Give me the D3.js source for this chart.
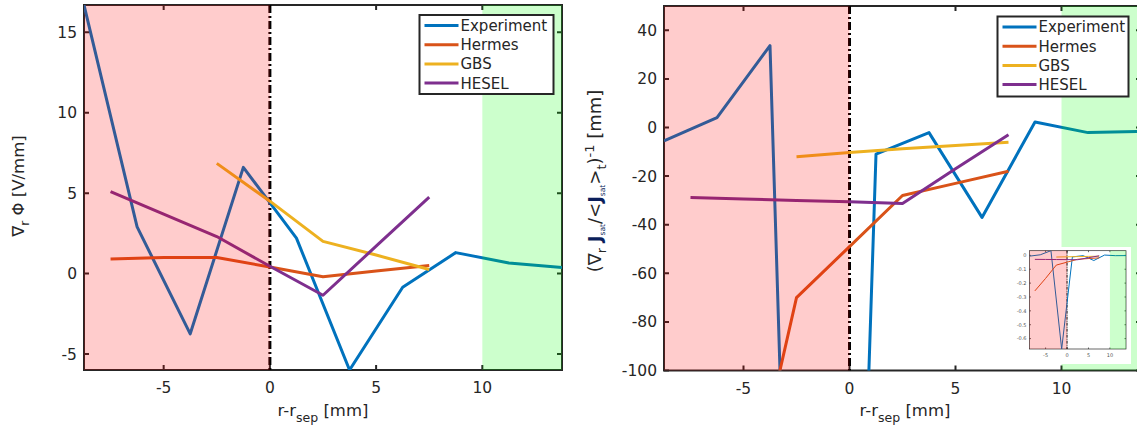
<!DOCTYPE html>
<html>
<head>
<meta charset="utf-8">
<script src="https://cdn.jsdelivr.net/npm/d3@7"></script>
<style>
  body { margin: 0; background: #fff; }
  text { font-family: "DejaVu Sans", sans-serif; fill: #262626; }
</style>
</head>
<body>
<script>
var width = 1137;
var height = 431;

// radial positions [mm]
var expX = [-8.75, -6.25, -3.75, -1.25, 1.25, 3.75, 6.25, 8.75, 11.25, 13.75];
var simX = [-7.5, -5, -2.5, 0, 2.5, 5, 7.5];
var gbsX = [-2.5, 0, 2.5, 5, 7.5];

// left panel: grad_r Phi [V/mm]
var expPhi = [16.7, 2.9, -3.75, 6.6, 2.2, -6.0, -0.85, 1.3, 0.65, 0.37];
var hermesPhi = [0.9, 1.0, 1.0, 0.4, -0.2, 0.15, 0.5];
var gbsPhi = [6.85, 4.5, 2.0, 1.15, 0.25];
var heselPhi = [5.1, 3.7, 2.3, 0.45, -1.35, 1.7, 4.75];

// right panel: (grad_r Jsat/<Jsat>)^-1 [mm]
var expL = [-5.5, 4.1, 33.7, -675, -11, -2.1, -37, 2.3, -2.1, -1.6];
var hermesL = [-256, -166, -70, -49, -28, -23, -18];
var gbsL = [-12, -10.3, -8.7, -7.4, -6.1];
var heselL = [-28.8, -29.4, -30, -30.6, -31.3, -17, -3];

var seriesNames = ['Experiment', 'Hermes', 'GBS', 'HESEL'];
var colors = ['#0072BD', '#D95319', '#EDB120', '#7E2F8E'];

var xTicks = [-5, 0, 5, 10];
var phiTicks = [-5, 0, 5, 10, 15];
var lTicks = [-100, -80, -60, -40, -20, 0, 20, 40];
var insetYTicks = [0, -0.1, -0.2, -0.3, -0.4, -0.5, -0.6];

var svg = d3.select('body').append('svg')
    .attr('width', width)
    .attr('height', height);

var clipId = 0;

function drawPanel(cfg) {
    var x = d3.scaleLinear().domain(cfg.xDomain).range(cfg.xRange);
    var y = d3.scaleLinear().domain(cfg.yDomain).range(cfg.yRange);
    var g = svg.append('g');
    var x0 = cfg.xRange[0], x1 = cfg.xRange[1], y0 = cfg.yRange[1], y1 = cfg.yRange[0];

    var id = 'clip' + (clipId++);
    g.append('clipPath').attr('id', id)
        .append('rect')
        .attr('x', x0).attr('y', y0)
        .attr('width', x1 - x0).attr('height', y1 - y0);

    if (cfg.background) {
        g.append('rect')
            .attr('x', cfg.background[0]).attr('y', cfg.background[1])
            .attr('width', cfg.background[2]).attr('height', cfg.background[3])
            .attr('fill', '#fff');
    }

    // ticks (inward, on all four sides) and box
    var tl = cfg.tickLen;
    g.selectAll('.xt').data(cfg.xTicks).enter().append('path')
        .attr('d', function (d) {
            return 'M' + x(d) + ',' + y1 + 'v' + (-tl) + 'M' + x(d) + ',' + y0 + 'v' + tl;
        })
        .attr('stroke', '#262626').attr('stroke-width', cfg.axisWidth);
    g.selectAll('.yt').data(cfg.yTicks).enter().append('path')
        .attr('d', function (d) {
            return 'M' + x0 + ',' + y(d) + 'h' + tl + 'M' + x1 + ',' + y(d) + 'h' + (-tl);
        })
        .attr('stroke', '#262626').attr('stroke-width', cfg.axisWidth);

    g.append('rect')
        .attr('x', x0).attr('y', y0)
        .attr('width', x1 - x0).attr('height', y1 - y0)
        .attr('fill', 'none')
        .attr('stroke', '#262626')
        .attr('stroke-width', cfg.axisWidth);

    g.selectAll('.xl').data(cfg.xTicks).enter().append('text')
        .attr('x', function (d) { return x(d); })
        .attr('y', y1 + cfg.xLabelOffset)
        .attr('text-anchor', 'middle')
        .style('font-size', cfg.fontSize + 'px')
        .style('fill', cfg.tickColor || '#262626')
        .text(function (d) { return d; });
    g.selectAll('.yl').data(cfg.yTicks).enter().append('text')
        .attr('x', x0 - cfg.yLabelOffset)
        .attr('y', function (d) { return y(d); })
        .attr('dy', '0.36em')
        .attr('text-anchor', 'end')
        .style('font-size', cfg.fontSize + 'px')
        .style('fill', cfg.tickColor || '#262626')
        .text(function (d) { return d; });

    // separatrix
    g.append('line')
        .attr('x1', x(0)).attr('x2', x(0))
        .attr('y1', y0).attr('y2', y1)
        .attr('stroke', '#000')
        .attr('stroke-width', cfg.sepWidth)
        .attr('stroke-dasharray', cfg.sepDash);

    var line = d3.line()
        .x(function (d) { return x(d[0]); })
        .y(function (d) { return y(d[1]); });

    var lines = g.append('g').attr('clip-path', 'url(#' + id + ')');
    cfg.series.forEach(function (s, i) {
        lines.append('path')
            .datum(d3.zip(s.x, s.y))
            .attr('d', line)
            .attr('fill', 'none')
            .attr('stroke', colors[i])
            .attr('stroke-width', cfg.lineWidth)
            .attr('stroke-linejoin', 'round');
    });

    // confined region / wall shadow region
    g.append('rect')
        .attr('x', x0).attr('y', y0)
        .attr('width', x(0) - x0).attr('height', y1 - y0)
        .attr('fill', '#ff0000').attr('fill-opacity', 0.2);
    g.append('rect')
        .attr('x', x(10)).attr('y', y0)
        .attr('width', x1 - x(10)).attr('height', y1 - y0)
        .attr('fill', '#00ff00').attr('fill-opacity', 0.2);

    return { x: x, y: y, g: g };
}

function drawLegend(lx, ly, w, h) {
    var lg = svg.append('g').attr('transform', 'translate(' + lx + ',' + ly + ')');
    lg.append('rect')
        .attr('width', w).attr('height', h)
        .attr('fill', '#fff')
        .attr('stroke', '#262626')
        .attr('stroke-width', 2);
    seriesNames.forEach(function (name, i) {
        var yy = 10.5 + i * 19.2;
        lg.append('line')
            .attr('x1', 5).attr('x2', 39)
            .attr('y1', yy).attr('y2', yy)
            .attr('stroke', colors[i]).attr('stroke-width', 3);
        lg.append('text')
            .attr('x', 41).attr('y', yy)
            .attr('dy', '0.36em')
            .style('font-size', '15px')
            .text(name);
    });
}

function xLabel(cx) {
    var t = svg.append('text')
        .attr('x', cx).attr('y', 416)
        .attr('text-anchor', 'middle')
        .style('font-size', '16.5px');
    t.append('tspan').text('r-r');
    t.append('tspan').attr('dy', 6).style('font-size', '12.5px').text('sep');
    t.append('tspan').attr('dy', -6).text(' [mm]');
}

var common = {
    xDomain: [-8.75, 13.75],
    xTicks: xTicks,
    tickLen: 5,
    axisWidth: 2,
    fontSize: 15.5,
    xLabelOffset: 23,
    yLabelOffset: 7,
    lineWidth: 3,
    sepWidth: 3,
    sepDash: '8,3,2,3'
};

// left panel
drawPanel(Object.assign({}, common, {
    xRange: [84, 562],
    yDomain: [-6.0, 16.7],
    yRange: [370, 5],
    yTicks: phiTicks,
    series: [
        { x: expX, y: expPhi },
        { x: simX, y: hermesPhi },
        { x: gbsX, y: gbsPhi },
        { x: simX, y: heselPhi }
    ]
}));

// right panel
drawPanel(Object.assign({}, common, {
    xRange: [664, 1141],
    yDomain: [-100, 50],
    yRange: [370.5, 6],
    yTicks: lTicks,
    series: [
        { x: expX, y: expL },
        { x: simX, y: hermesL },
        { x: gbsX, y: gbsL },
        { x: simX, y: heselL }
    ]
}));

// inset with the full range of the right panel [m]
var toM = function (a) { return a.map(function (v) { return v / 1000; }); };
var insetAll = expL.concat(hermesL, gbsL, heselL);
drawPanel({
    xDomain: [-8.75, 13.75],
    xRange: [1029.5, 1126],
    yDomain: [d3.min(insetAll) / 1000, d3.max(insetAll) / 1000],
    yRange: [349, 250.7],
    xTicks: xTicks,
    yTicks: insetYTicks,
    background: [1018, 247, 113, 117],
    tickLen: 1.5,
    axisWidth: 0.7,
    fontSize: 5,
    tickColor: '#555',
    xLabelOffset: 8,
    yLabelOffset: 3,
    lineWidth: 1,
    sepWidth: 1,
    sepDash: '3,1,1,1',
    series: [
        { x: expX, y: toM(expL) },
        { x: simX, y: toM(hermesL) },
        { x: gbsX, y: toM(gbsL) },
        { x: simX, y: toM(heselL) }
    ]
});

drawLegend(419.5, 15, 134, 79);
drawLegend(997.5, 16.5, 131, 80);

xLabel(323);
xLabel(905);

// y labels
var yl1 = svg.append('text')
    .attr('transform', 'translate(24,186) rotate(-90)')
    .attr('text-anchor', 'middle')
    .style('font-size', '16.5px');
yl1.append('tspan').text('\u2207');
yl1.append('tspan').attr('dy', 5).style('font-size', '12px').text('r');
yl1.append('tspan').attr('dy', -5).text(' \u03A6 [V/mm]');

var yl2 = svg.append('text')
    .attr('transform', 'translate(601,181) rotate(-90)')
    .attr('text-anchor', 'middle')
    .style('font-size', '18px');
yl2.append('tspan').text('(\u2207');
yl2.append('tspan').attr('dy', 5).style('font-size', '13px').text('r');
yl2.append('tspan').attr('dy', -5).text(' ');
yl2.append('tspan').style('font-weight', 'bold').style('fill', '#0b1f5c').text('J');
yl2.append('tspan').attr('dy', 4).style('font-size', '7.5px').style('fill', '#0b1f5c').text('sat');
yl2.append('tspan').attr('dy', -4).text('/<');
yl2.append('tspan').style('font-weight', 'bold').style('fill', '#0b1f5c').text('J');
yl2.append('tspan').attr('dy', 4).style('font-size', '7.5px').style('fill', '#0b1f5c').text('sat');
yl2.append('tspan').attr('dy', -4).text('>');
yl2.append('tspan').attr('dy', 5).style('font-size', '13px').text('t');
yl2.append('tspan').attr('dy', -5).text(')');
yl2.append('tspan').attr('dy', -7).style('font-size', '13px').text('-1');
yl2.append('tspan').attr('dy', 7).text(' [mm]');
</script>
</body>
</html>
